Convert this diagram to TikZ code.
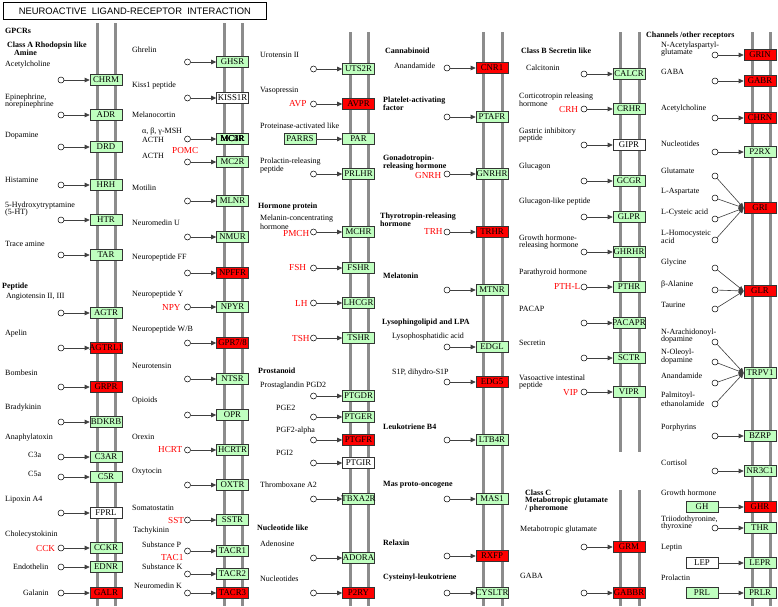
\documentclass[tikz,border=0pt]{standalone}
\usepackage{fontspec}
\setmainfont{Liberation Serif}
\newfontfamily\titlefont{Liberation Sans}
\usetikzlibrary{arrows.meta}
\definecolor{kgreen}{RGB}{191,255,191}
\definecolor{kred}{RGB}{255,0,0}
\definecolor{kgray}{RGB}{140,140,140}
\newcount\lbn
\newcommand{\lb}[3][]{\global\advance\lbn by 1\relax\node[lbl,#1] (lb\the\lbn) at (#2) {#3};}
\newcommand{\gn}[5]{\node[gene,#4] (#1) at (#2,#3) {\makebox[0pt]{#5}};}
\newcommand{\gl}[5]{\gn{#1}{#2}{#3}{#4}{#5}\node[lig] (#1c) at ({#2-45},#3) {};\draw[arr] (#1c) -- (#1);}
\tikzset{
 gene/.style={draw=black!80, line width=0.6pt, minimum width=32pt, minimum height=11.5pt, inner sep=0pt, font=\fontsize{8.8}{9}\selectfont},
 gfill/.style={fill=kgreen}, rfill/.style={fill=kred}, wfill/.style={fill=white},
 lig/.style={circle, draw=black, line width=0.5pt, fill=white, minimum size=6pt, inner sep=0pt},
 arr/.style={-{Triangle[length=5pt,width=4.5pt]}, draw=black!75, line width=0.6pt},
 lbl/.style={anchor=west, inner sep=0pt, font=\fontsize{8}{9}\selectfont},
 hd/.style={font=\fontsize{8}{9}\selectfont\bfseries},
 rd/.style={text=kred, font=\fontsize{9.2}{10}\selectfont},
 bar/.style={draw=kgray, line width=3pt},
}
\begin{document}
\begin{tikzpicture}[x=1pt,y=-1pt]
\useasboundingbox (0,0) rectangle (778,606);
\fill[white] (0,0) rectangle (778,606);
% title
\node[draw=black, line width=0.8pt, minimum width=263pt, minimum height=17pt, anchor=north west, inner sep=0pt, font=\titlefont\fontsize{9.4}{10}\selectfont] (title) at (3,2) {NEUROACTIVE\ \ LIGAND-RECEPTOR\ \ INTERACTION};
% membrane bars
\draw[bar] (97,23) -- (97,606);  \draw[bar] (115,23) -- (115,606);
\draw[bar] (224,23) -- (224,606); \draw[bar] (242,23) -- (242,606);
\draw[bar] (350,32) -- (350,606); \draw[bar] (368,32) -- (368,606);
\draw[bar] (483,32) -- (483,606); \draw[bar] (502,32) -- (502,606);
\draw[bar] (620,32) -- (620,452); \draw[bar] (639,32) -- (639,452);
\draw[bar] (620,490) -- (620,606); \draw[bar] (639,490) -- (639,606);
\draw[bar] (752,32) -- (752,606); \draw[bar] (770,32) -- (770,606);
% ---------- column 1
\gl{chrm}{106}{80}{gfill}{CHRM}
\gl{adr}{106}{115}{gfill}{ADR}
\gl{drd}{106}{147}{gfill}{DRD}
\gl{hrh}{106}{185}{gfill}{HRH}
\gl{htr}{106}{220}{gfill}{HTR}
\gl{tar}{106}{255}{gfill}{TAR}
\gl{agtr}{106}{313}{gfill}{AGTR}
\gl{agtrl}{106}{348}{rfill}{AGTRL1}
\gl{grpr}{106}{387}{rfill}{GRPR}
\gl{bdkrb}{106}{422}{gfill}{BDKRB}
\gl{cthreear}{106}{457}{gfill}{C3AR}
\gl{cfiver}{106}{477}{gfill}{C5R}
\gl{fprl}{106}{513}{wfill}{FPRL}
\gl{cckr}{106}{548}{gfill}{CCKR}
\gl{ednr}{106}{567}{gfill}{EDNR}
\gl{galr}{106}{593}{rfill}{GALR}
\lb[hd]{5,31}{GPCRs}
\lb[hd]{7,46}{Class A Rhodopsin like}
\lb[hd]{14,53}{Amine}
\lb{5,65}{Acetylcholine}
\lb{5,98}{Epinephrine,}
\lb{5,105}{norepinephrine}
\lb{5,136}{Dopamine}
\lb{5,180}{Histamine}
\lb{5,206}{5-Hydroxytryptamine}
\lb{5,213}{(5-HT)}
\lb{5,244}{Trace amine}
\lb[hd]{2,287}{Peptide}
\lb{6,297}{Angiotensin II, III}
\lb{5,334}{Apelin}
\lb{5,373}{Bombesin}
\lb{5,408}{Bradykinin}
\lb{5,438}{Anaphylatoxin}
\lb{28,455}{C3a}
\lb{28,474}{C5a}
\lb{5,500}{Lipoxin A4}
\lb{5,535}{Cholecystokinin}
\lb[rd]{36,548}{CCK}
\lb{13,567}{Endothelin}
\lb{23,593}{Galanin}
% ---------- column 2
\gl{ghsr}{232.5}{62}{gfill}{GHSR}
\gl{kissr}{232.5}{98}{wfill}{KISS1R}
\gl{mcr}{232.5}{139}{gfill}{\makebox[0pt]{MC1R}\makebox[0pt]{MC3R}\makebox[0pt]{MC4R}\makebox[0pt]{MC5R}}
\gl{mctwor}{232.5}{162}{gfill}{MC2R}
\gl{mlnr}{232.5}{201}{gfill}{MLNR}
\gl{nmur}{232.5}{237}{gfill}{NMUR}
\gl{npffr}{232.5}{273}{rfill}{NPFFR}
\gl{npyr}{232.5}{307}{gfill}{NPYR}
\gl{gpr}{232.5}{343}{rfill}{GPR7/8}
\gl{ntsr}{232.5}{379}{gfill}{NTSR}
\gl{opr}{232.5}{415}{gfill}{OPR}
\gl{hcrtr}{232.5}{450}{gfill}{HCRTR}
\gl{oxtr}{232.5}{485}{gfill}{OXTR}
\gl{sstr}{232.5}{520}{gfill}{SSTR}
\gl{tacra}{232.5}{551}{gfill}{TACR1}
\gl{tacrb}{232.5}{574}{gfill}{TACR2}
\gl{tacrc}{232.5}{593}{rfill}{TACR3}
\lb{132,50}{Ghrelin}
\lb{132,86}{Kiss1 peptide}
\lb{132,115}{Melanocortin}
\lb{142,132}{α, β, γ-MSH}
\lb{142,140}{ACTH}
\lb[rd]{172,150}{POMC}
\lb{142,156}{ACTH}
\lb{132,188}{Motilin}
\lb{132,223}{Neuromedin U}
\lb{132,258}{Neuropeptide FF}
\lb{132,295}{Neuropeptide Y}
\lb[rd]{162,307}{NPY}
\lb{132,330}{Neuropeptide W/B}
\lb{132,366}{Neurotensin}
\lb{132,401}{Opioids}
\lb{132,437}{Orexin}
\lb[rd]{158,449}{HCRT}
\lb{132,472}{Oxytocin}
\lb{132,508}{Somatostatin}
\lb[rd]{168,520}{SST}
\lb{133,531}{Tachykinin}
\lb{142,545}{Substance P}
\lb[rd]{161,557}{TAC1}
\lb{142,567}{Substance K}
\lb{134,586}{Neuromedin K}
% ---------- column 3
\gl{utsr}{358.5}{69}{gfill}{UTS2R}
\gl{avpr}{358.5}{104}{rfill}{AVPR}
\gn{par}{358.5}{139}{gfill}{PAR}
\gn{parrs}{300}{139}{gfill}{PARRS}
\draw[arr] (parrs) -- (par);
\gl{prlhr}{358.5}{174}{gfill}{PRLHR}
\gl{mchr}{358.5}{232}{gfill}{MCHR}
\gl{fshr}{358.5}{268}{gfill}{FSHR}
\gl{lhcgr}{358.5}{303}{gfill}{LHCGR}
\gl{tshr}{358.5}{338}{gfill}{TSHR}
\gl{ptgdr}{358.5}{396}{gfill}{PTGDR}
\gl{ptger}{358.5}{417}{gfill}{PTGER}
\gl{ptgfr}{358.5}{440}{rfill}{PTGFR}
\gl{ptgir}{358.5}{463}{wfill}{PTGIR}
\gl{tbxar}{358.5}{499}{gfill}{TBXA2R}
\gl{adora}{358.5}{558}{gfill}{ADORA}
\gl{ptwory}{358.5}{593}{rfill}{P2RY}
\lb{260,55}{Urotensin II}
\lb{260,91}{Vasopressin}
\lb[rd]{289,104}{AVP}
\lb{260,126}{Proteinase-activated like}
\lb{260,162}{Prolactin-releasing}
\lb{260,170}{peptide}
\lb[hd]{258,207}{Hormone protein}
\lb{260,219}{Melanin-concentrating}
\lb{260,227}{hormone}
\lb[rd]{283,233}{PMCH}
\lb[rd]{289,267}{FSH}
\lb[rd]{295,303}{LH}
\lb[rd]{292,338}{TSH}
\lb[hd]{258,371}{Prostanoid}
\lb{260,386}{Prostaglandin PGD2}
\lb{276,408}{PGE2}
\lb{276,431}{PGF2-alpha}
\lb{276,453}{PGI2}
\lb{260,485}{Thromboxane A2}
\lb[hd]{257,528}{Nucleotide like}
\lb{260,544}{Adenosine}
\lb{260,579}{Nucleotides}
% ---------- column 4
\gl{cnra}{492}{68}{rfill}{CNR1}
\gl{ptafr}{492}{117}{gfill}{PTAFR}
\gl{gnrhr}{492}{174}{gfill}{GNRHR}
\gl{trhr}{492}{232}{rfill}{TRHR}
\gl{mtnr}{492}{290}{gfill}{MTNR}
\gl{edgl}{492}{347}{gfill}{EDGL}
\gl{edgf}{492}{382}{rfill}{EDG5}
\gl{ltbr}{492}{440}{gfill}{LTB4R}
\gl{masa}{492}{499}{gfill}{MAS1}
\gl{rxfp}{492}{556}{rfill}{RXFP}
\gl{cysltr}{492}{593}{gfill}{CYSLTR}
\lb[hd]{385,51}{Cannabinoid}
\lb{394,66}{Anandamide}
\lb[hd]{383,101}{Platelet-activating}
\lb[hd]{383,108}{factor}
\lb[hd]{383,159}{Gonadotropin-}
\lb[hd]{383,167}{releasing hormone}
\lb[rd]{415,175}{GNRH}
\lb[hd]{380,217}{Thyrotropin-releasing}
\lb[hd]{380,224}{hormone}
\lb[rd]{424,231}{TRH}
\lb[hd]{383,276}{Melatonin}
\lb[hd]{382,323}{Lysophingolipid and LPA}
\lb{392,337}{Lysophosphatidic acid}
\lb{392,373}{S1P, dihydro-S1P}
\lb[hd]{383,427}{Leukotriene B4}
\lb[hd]{383,485}{Mas proto-oncogene}
\lb[hd]{383,543}{Relaxin}
\lb[hd]{383,578}{Cysteinyl-leukotriene}
% ---------- column 5
\gl{calcr}{629}{74}{gfill}{CALCR}
\gl{crhr}{629}{109}{gfill}{CRHR}
\gl{gipr}{629}{145}{wfill}{GIPR}
\gl{gcgr}{629}{181}{gfill}{GCGR}
\gl{glpr}{629}{217}{gfill}{GLPR}
\gl{ghrhr}{629}{252}{gfill}{GHRHR}
\gl{pthr}{629}{287}{gfill}{PTHR}
\gl{pacapr}{629}{323}{gfill}{PACAPR}
\gl{sctr}{629}{358}{gfill}{SCTR}
\gl{vipr}{629}{392}{gfill}{VIPR}
\gl{grm}{629}{547}{rfill}{GRM}
\gl{gabbr}{629}{593}{rfill}{GABBR}
\lb[hd]{521,51}{Class B Secretin like}
\lb{526,68}{Calcitonin}
\lb{519,97}{Corticotropin releasing}
\lb{519,104}{hormone}
\lb[rd]{559,109}{CRH}
\lb{519,132}{Gastric inhibitory}
\lb{519,139}{peptide}
\lb{519,167}{Glucagon}
\lb{519,202}{Glucagon-like peptide}
\lb{519,238}{Growth hormone-}
\lb{519,246}{releasing hormone}
\lb{519,273}{Parathyroid hormone}
\lb[rd]{554,286}{PTH-L}
\lb{519,309}{PACAP}
\lb{519,343}{Secretin}
\lb{519,378}{Vasoactive intestinal}
\lb{519,386}{peptide}
\lb[rd]{563,393}{VIP}
\lb[hd]{525,493}{Class C}
\lb[hd]{525,501}{Metabotropic glutamate}
\lb[hd]{525,509}{/ pheromone}
\lb{520,530}{Metabotropic glutamate}
\lb{520,576}{GABA}
% ---------- column 6
\gl{grin}{760}{55}{rfill}{GRIN}
\gl{gabr}{760}{81}{rfill}{GABR}
\gl{chrn}{760}{118}{rfill}{CHRN}
\gl{ptworx}{760}{152}{gfill}{P2RX}
\gn{gri}{760}{208}{rfill}{GRI}
\node[lig] (gria) at (715,176) {};
\node[lig] (grib) at (715,198) {};
\node[lig] (gric) at (715,219) {};
\node[lig] (grid) at (715,240) {};
\draw[arr] (gria) -- (gri.west);
\draw[arr] (grib) -- (gri.west);
\draw[arr] (gric) -- (gri.west);
\draw[arr] (grid) -- (gri.west);
\gn{glr}{760}{291}{rfill}{GLR}
\node[lig] (glra) at (715,268) {};
\node[lig] (glrb) at (715,290) {};
\node[lig] (glrc) at (715,309) {};
\draw[arr] (glra) -- (glr.west);
\draw[arr] (glrb) -- (glr.west);
\draw[arr] (glrc) -- (glr.west);
\gn{trpv}{760}{373}{gfill}{TRPV1}
\node[lig] (trpva) at (715,342) {};
\node[lig] (trpvb) at (715,362) {};
\node[lig] (trpvc) at (715,383) {};
\node[lig] (trpvd) at (715,404) {};
\draw[arr] (trpva) -- (trpv.west);
\draw[arr] (trpvb) -- (trpv.west);
\draw[arr] (trpvc) -- (trpv.west);
\draw[arr] (trpvd) -- (trpv.west);
\gl{bzrp}{760}{436}{gfill}{BZRP}
\gl{nrc}{760}{471}{gfill}{NR3C1}
\gn{ghr}{760}{507}{rfill}{GHR}
\gn{gh}{702}{507}{gfill}{GH}
\draw[arr] (gh) -- (ghr);
\gl{thr}{760}{528}{gfill}{THR}
\gn{lepr}{760}{563}{gfill}{LEPR}
\gn{lep}{702}{563}{wfill}{LEP}
\draw[arr] (lep) -- (lepr);
\gn{prlr}{760}{593}{gfill}{PRLR}
\gn{prl}{702}{593}{gfill}{PRL}
\draw[arr] (prl) -- (prlr);
\lb[hd]{646,36}{Channels /other receptors}
\lb{661,46}{N-Acetylaspartyl-}
\lb{661,53}{glutamate}
\lb{661,72}{GABA}
\lb{661,109}{Acetylcholine}
\lb{661,144}{Nucleotides}
\lb{661,171}{Glutamate}
\lb{661,192}{L-Aspartate}
\lb{661,213}{L-Cysteic acid}
\lb{661,234}{L-Homocysteic}
\lb{661,241}{acid}
\lb{661,263}{Glycine}
\lb{661,285}{β-Alanine}
\lb{661,305}{Taurine}
\lb{661,333}{N-Arachidonoyl-}
\lb{661,340}{dopamine}
\lb{661,353}{N-Oleoyl-}
\lb{661,361}{dopamine}
\lb{661,376}{Anandamide}
\lb{661,396}{Palmitoyl-}
\lb{661,404}{ethanolamide}
\lb{661,428}{Porphyrins}
\lb{661,463}{Cortisol}
\lb{661,493}{Growth hormone}
\lb{661,520}{Triiodothyronine,}
\lb{661,527}{thyroxine}
\lb{661,548}{Leptin}
\lb{661,578}{Prolactin}
\end{tikzpicture}
\end{document}
